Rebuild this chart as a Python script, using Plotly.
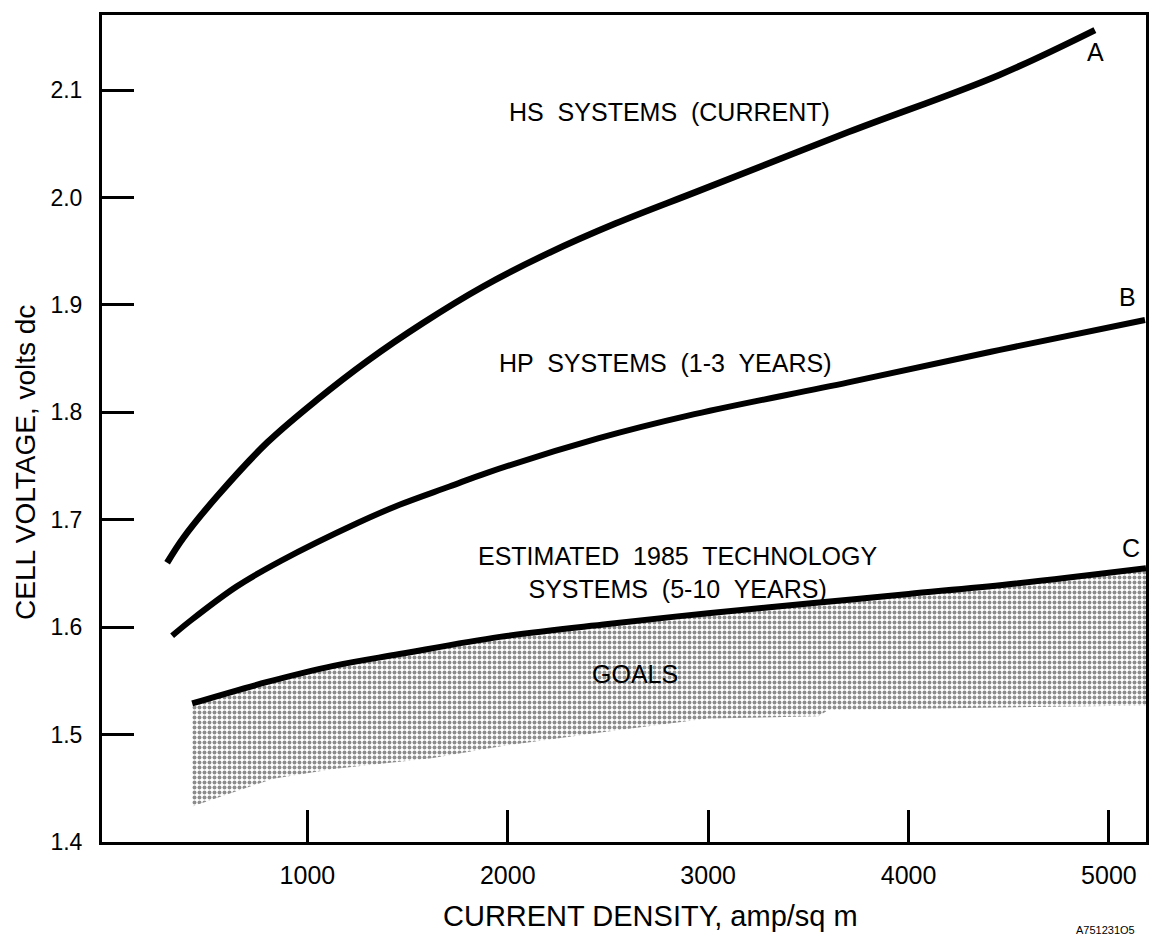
import plotly.graph_objects as go

# ---- data ----
A_x = [300, 380, 550, 800, 1050, 1300, 1575, 1875, 2200, 2540, 2950, 3700, 4450, 4930]
A_y = [1.660, 1.683, 1.722, 1.772, 1.812, 1.848, 1.883, 1.917, 1.948, 1.976, 2.006, 2.061, 2.114, 2.156]

B_x = [325, 416, 648, 870, 1250, 1460, 1709, 1900, 2455, 2900, 3700, 4450, 5180]
B_y = [1.592, 1.606, 1.638, 1.662, 1.697, 1.714, 1.731, 1.744, 1.776, 1.797, 1.828, 1.858, 1.886]

C_x = [425, 800, 1130, 1460, 1960, 2500, 3000, 3500, 4000, 4500, 5185]
C_y = [1.529, 1.549, 1.564, 1.575, 1.591, 1.603, 1.613, 1.622, 1.631, 1.640, 1.655]

GOAL_LOW_x = [425, 830, 1130, 1620, 1960, 2500, 3000, 3550, 3600, 4500, 5185]
GOAL_LOW_y = [1.433, 1.459, 1.468, 1.478, 1.489, 1.503, 1.515, 1.517, 1.523, 1.525, 1.527]

x_ticks = [1000, 2000, 3000, 4000, 5000]
x_tick_labels = ["1000", "2000", "3000", "4000", "5000"]
y_ticks = [1.4, 1.5, 1.6, 1.7, 1.8, 1.9, 2.0, 2.1]
y_tick_labels = ["1.4", "1.5", "1.6", "1.7", "1.8", "1.9", "2.0", "2.1"]

FONT = "Liberation Sans, Arial, sans-serif"

fig = go.Figure()

# GOALS shaded region (between lower boundary and curve C)
fig.add_trace(go.Scatter(
    x=GOAL_LOW_x + C_x[::-1],
    y=GOAL_LOW_y + C_y[::-1],
    mode="lines", fill="toself",
    line=dict(width=0, color="rgba(0,0,0,0)"),
    fillcolor="rgba(255,255,255,0)",
    fillpattern=dict(shape=".", size=5, solidity=0.5, fgcolor="#1a1a1a", bgcolor="white"),
    hoverinfo="skip", showlegend=False,
))

for xs, ys, w in [(A_x, A_y, 6.5), (B_x, B_y, 6), (C_x, C_y, 6)]:
    fig.add_trace(go.Scatter(
        x=xs, y=ys, mode="lines",
        line=dict(color="black", width=w, shape="spline", smoothing=1.0),
        showlegend=False, hoverinfo="skip",
    ))

tf = dict(family=FONT, size=25, color="black")
annots = [
    dict(x=2808, y=2.080, text="HS  SYSTEMS  (CURRENT)"),
    dict(x=2788, y=1.846, text="HP  SYSTEMS  (1-3  YEARS)"),
    dict(x=2848, y=1.651, text="ESTIMATED  1985  TECHNOLOGY<br>SYSTEMS  (5-10  YEARS)"),
    dict(x=2634, y=1.556, text="GOALS"),
    dict(x=4932, y=2.136, text="A"),
    dict(x=5092, y=1.907, text="B"),
    dict(x=5112, y=1.674, text="C"),
]
for a in annots:
    fig.add_annotation(x=a["x"], y=a["y"], xref="x", yref="y", text=a["text"],
                       showarrow=False, font=tf, xanchor="center", yanchor="middle")

# axis titles as annotations for precise placement
fig.add_annotation(x=0, xref="paper", xshift=-77, y=(842 - 463) / 827, yref="paper",
                   text="CELL VOLTAGE, volts dc", textangle=-90, showarrow=False,
                   font=dict(family=FONT, size=28, color="black"),
                   xanchor="center", yanchor="middle")
fig.add_annotation(x=(652 - 102) / 1047, xref="paper", y=0, yref="paper", yshift=-74,
                   text="CURRENT DENSITY, amp/sq m", showarrow=False,
                   font=dict(family=FONT, size=29, color="black"),
                   xanchor="center", yanchor="middle")
fig.add_annotation(x=(1108 - 102) / 1047, xref="paper", y=0, yref="paper", yshift=-88,
                   text="A751231O5", showarrow=False,
                   font=dict(family=FONT, size=11, color="black"),
                   xanchor="center", yanchor="middle")

fig.update_xaxes(
    range=[-25, 5185], tickvals=x_ticks, ticktext=x_tick_labels,
    ticks="inside", ticklen=32, tickwidth=2.5, tickcolor="black",
    showline=True, linewidth=3, linecolor="black", mirror=True,
    showgrid=False, zeroline=False, ticklabelstandoff=9,
    tickfont=dict(family=FONT, size=25, color="black"),
)
fig.update_yaxes(
    range=[1.4, 2.17], tickvals=y_ticks, ticktext=y_tick_labels,
    ticks="inside", ticklen=32, tickwidth=2.5, tickcolor="black",
    showline=True, linewidth=3, linecolor="black", mirror=True,
    showgrid=False, zeroline=False, ticklabelstandoff=12,
    tickfont=dict(family=FONT, size=23, color="black"),
)

fig.update_layout(
    width=1154, height=939,
    margin=dict(l=102, r=5, t=15, b=97),
    paper_bgcolor="white", plot_bgcolor="white",
    showlegend=False,
)

fig.write_html("out.html")
